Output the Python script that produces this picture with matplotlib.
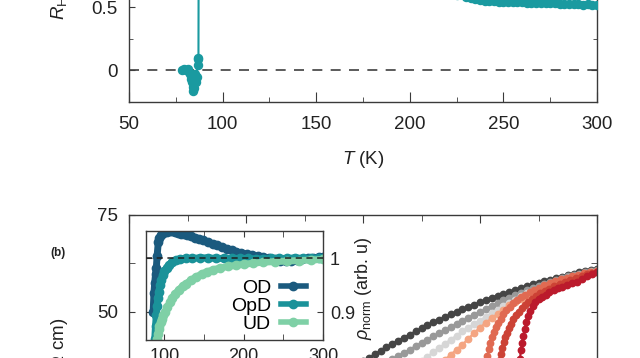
import matplotlib
matplotlib.use("Agg")
import matplotlib.pyplot as plt
from matplotlib.ticker import MultipleLocator, FuncFormatter

plt.rcParams['font.family'] = ['Liberation Sans', 'DejaVu Sans']
plt.rcParams['mathtext.fontset'] = 'custom'
plt.rcParams['mathtext.rm'] = 'Liberation Sans'
plt.rcParams['mathtext.it'] = 'Liberation Sans:italic'
plt.rcParams['mathtext.bf'] = 'Liberation Sans:bold'

# ---------------- data: top panel (Hall coefficient, normalized) ----------------
RH_T = [78.5, 79.5, 80.5, 81.5, 82.0, 82.5, 83.0, 83.5, 84.0, 84.3,
        84.6, 85.2, 85.6, 86.1, 86.6, 86.9, 87.1, 87.3,
        90, 100, 120, 150, 180, 200, 215, 225,
        230, 232.5, 235, 237.5, 240, 242.5, 245, 247.5, 250, 252.5,
        255, 257.5, 260, 262.5, 265, 267.5, 270, 272.5, 275, 277.5,
        280, 282.5, 285, 287.5, 290, 292.5, 295, 297.5, 300]
RH_v = [0.00, 0.01, 0.00, 0.01, -0.01, -0.03, -0.07, -0.09, -0.13, -0.16,
        -0.14, -0.03, -0.09, -0.05, 0.04, 0.09, 0.10, 1.60,
        1.40, 1.15, 0.92, 0.76, 0.67, 0.63, 0.61, 0.60,
        0.580, 0.570, 0.563, 0.556, 0.553, 0.549, 0.547, 0.545, 0.543, 0.544,
        0.540, 0.538, 0.539, 0.536, 0.535, 0.533, 0.534, 0.531, 0.530, 0.531,
        0.528, 0.527, 0.528, 0.525, 0.524, 0.522, 0.523, 0.520, 0.519]

# ---------------- data: bottom panel resistivity curves ----------------
c1_T = [197.5, 200, 202.5, 205, 207.5, 210, 212.5, 215, 217.5, 220,
        222.5, 225, 227.5, 230, 232.5, 235, 237.5, 240, 242.5, 245,
        247.5, 250, 252.5, 255, 257.5, 260, 262.5, 265, 267.5, 270,
        272.5, 275, 277.5, 280, 282.5, 285, 287.5, 290, 292.5, 295,
        297.5, 300]
c1_v = [36.4, 37.3, 38.2, 39.1, 40.0, 40.9, 41.8, 42.6, 43.4, 44.2,
        45.0, 45.8, 46.6, 47.3, 48.0, 48.7, 49.4, 50.1, 50.7, 51.3,
        51.9, 52.5, 53.1, 53.7, 54.2, 54.7, 55.2, 55.7, 56.2, 56.7,
        57.1, 57.5, 57.9, 58.3, 58.7, 59.1, 59.5, 59.9, 60.2, 60.6,
        60.9, 61.2]

c2_T = [212.5, 215, 217.5, 220, 222.5, 225, 227.5, 230, 232.5, 235,
        237.5, 240, 242.5, 245, 247.5, 250, 252.5, 255, 257.5, 260,
        262.5, 265, 267.5, 270, 272.5, 275, 277.5, 280, 282.5, 285,
        287.5, 290, 292.5, 295, 297.5, 300]
c2_v = [37.8, 38.7, 39.5, 40.3, 41.2, 42.0, 42.8, 43.7, 44.5, 45.3,
        46.1, 46.9, 47.7, 48.5, 49.3, 50.0, 50.8, 51.6, 52.3, 53.0,
        53.7, 54.3, 55.0, 55.7, 56.2, 56.7, 57.3, 57.8, 58.3, 58.8,
        59.2, 59.6, 59.9, 60.3, 60.6, 60.9]

c3_T = [222.5, 225, 227.5, 230, 232.5, 235, 237.5, 240, 242.5, 245,
        247.5, 250, 252.5, 255, 257.5, 260, 262.5, 265, 267.5, 270,
        272.5, 275, 277.5, 280, 282.5, 285, 287.5, 290, 292.5, 295,
        297.5, 300]
c3_v = [36.3, 37.4, 38.5, 39.6, 40.7, 41.8, 42.9, 43.9, 45.0, 45.9,
        46.9, 47.8, 48.8, 49.7, 50.6, 51.5, 52.3, 53.2, 54.0, 54.8,
        55.4, 56.0, 56.6, 57.2, 57.8, 58.3, 58.7, 59.1, 59.5, 59.9,
        60.3, 60.6]

c4_T = [235, 237.5, 240, 242.5, 245, 247.5, 250, 252.5, 255, 257.5,
        260, 262.5, 265, 267.5, 270, 272.5, 275, 277.5, 280, 282.5,
        285, 287.5, 290, 292.5, 295, 297.5, 300]
c4_v = [37.7, 39.0, 40.3, 41.6, 43.1, 44.6, 46.0, 47.2, 48.4, 49.5,
        50.6, 51.7, 52.5, 53.3, 54.0, 54.8, 55.6, 56.3, 56.9, 57.4,
        57.9, 58.4, 58.8, 59.3, 59.8, 60.2, 60.5]

c5_T = [252.8, 253.2, 253.7, 254.3, 255.0, 255.8, 256.7, 257.7, 258.8, 260.0,
        261.3, 262.7, 264.2, 265.8, 267.5, 269.3, 271.2, 273.2, 275.3, 277.5,
        279.8, 282.2, 284.6, 287.0, 289.5, 292.0, 294.5, 297.0, 300]
c5_v = [37.0, 38.7, 40.4, 42.0, 43.5, 44.9, 46.1, 47.2, 48.3, 49.4,
        50.4, 51.4, 52.3, 53.1, 53.8, 54.5, 55.1, 55.7, 56.3, 56.9,
        57.4, 57.9, 58.4, 58.8, 59.2, 59.6, 60.0, 60.3, 60.6]

c6_T = [258.2, 258.6, 259.0, 259.5, 260.1, 260.8, 261.5, 262.3, 263.2, 264.2,
        265.3, 266.5, 267.8, 269.2, 270.7, 272.3, 274.0, 275.8, 277.7, 279.7,
        281.8, 284.0, 286.3, 288.6, 291.0, 293.4, 295.8, 298.0, 300]
c6_v = [36.0, 37.6, 39.2, 40.8, 42.2, 43.5, 44.7, 45.9, 47.0, 48.1,
        49.2, 50.1, 51.0, 51.8, 52.6, 53.4, 54.1, 54.8, 55.4, 56.0,
        56.6, 57.2, 57.8, 58.3, 58.8, 59.3, 59.7, 60.1, 60.4]

c7_T = [266.5, 266.8, 267.1, 267.5, 268.0, 268.5, 269.1, 269.8, 270.6, 271.5,
        272.5, 273.7, 275.0, 276.5, 278.0, 279.7, 281.5, 283.3, 285.2, 287.2,
        289.3, 291.4, 293.6, 295.8, 298.0, 300]
c7_v = [34.0, 36.0, 38.0, 40.2, 42.0, 43.8, 45.6, 47.3, 48.9, 50.3,
        51.6, 52.6, 53.4, 53.9, 54.5, 55.1, 55.6, 56.1, 56.5, 57.0,
        57.4, 57.8, 58.5, 59.2, 59.9, 60.3]

curve_colors = ['#454545', '#999999', '#d6d6d6', '#f4a582', '#e06a52', '#cc4235', '#bb1a2c']

# ---------------- data: inset (normalized resistivity) ----------------
OD_T = [86, 87, 88, 89, 90, 91, 92.5, 94, 96, 98,
        101, 104, 107, 110, 113, 117, 121, 125, 129, 134,
        139, 144, 149, 155, 161, 167, 173, 179, 185, 191,
        197, 204, 211, 218, 225, 232, 239, 246, 253, 260,
        267, 274, 281, 288, 295, 300]
OD_v = [0.90, 0.935, 0.955, 0.970, 0.982, 1.005, 1.030, 1.038, 1.044, 1.047,
        1.049, 1.050, 1.051, 1.051, 1.050, 1.048, 1.046, 1.045, 1.043, 1.041,
        1.038, 1.036, 1.034, 1.030, 1.027, 1.024, 1.021, 1.018, 1.015, 1.012,
        1.010, 1.008, 1.006, 1.004, 1.002, 1.000, 0.998, 0.996, 0.995, 0.996,
        0.997, 0.999, 1.000, 1.001, 1.002, 1.002]
OpD_T = [88, 89, 90, 91, 92, 93, 94.5, 96, 98, 100,
         103, 106, 110, 115, 120, 127, 135, 145, 155, 165,
         175, 185, 195, 205, 215, 225, 235, 245, 255, 265,
         275, 285, 295, 300]
OpD_v = [0.85, 0.875, 0.895, 0.912, 0.926, 0.937, 0.950, 0.960, 0.969, 0.976,
         0.983, 0.988, 0.993, 0.997, 0.999, 1.000, 1.000, 1.001, 1.001, 1.000,
         1.000, 1.000, 1.000, 1.000, 0.999, 0.999, 1.000, 1.000, 1.000, 1.001,
         1.000, 1.000, 1.001, 1.001]
UD_T = [91, 92, 93, 94, 95.5, 97, 99, 101, 104, 107,
        110, 114, 118, 123, 128, 134, 140, 147, 154, 162,
        170, 180, 190, 200, 212, 225, 240, 255, 270, 285, 300]
UD_v = [0.85, 0.86, 0.868, 0.875, 0.882, 0.888, 0.894, 0.900, 0.909, 0.918,
        0.926, 0.934, 0.941, 0.948, 0.953, 0.960, 0.965, 0.971, 0.975, 0.979,
        0.982, 0.985, 0.987, 0.989, 0.991, 0.993, 0.994, 0.995, 0.996, 0.997, 0.998]
inset_labels = ['OD', 'OpD', 'UD']
inset_colors = ['#1b5a7e', '#1a9299', '#7fd0a6']

teal = '#1a9aa0'
spine_c = '#3a3a3a'
W, H = 640.0, 358.0

fig = plt.figure(figsize=(6.4, 3.58), dpi=100)

def style(ax, lw=1.0):
    for s in ax.spines.values():
        s.set_color(spine_c)
        s.set_linewidth(lw)

# ---------------- top panel ----------------
ax1 = fig.add_axes([129 / W, (H - 102) / H, 468 / W, 221 / H])
ax1.plot(RH_T, RH_v, '-o', color=teal, lw=1.5, ms=5.8, mec=teal, mfc=teal, zorder=3)
ax1.axhline(0, color='#404040', lw=1.2, ls=(0, (6, 5)), zorder=2)
ax1.set_xlim(50, 300)
ax1.set_ylim(-0.25, 1.5)
ax1.xaxis.set_major_locator(MultipleLocator(50))
ax1.xaxis.set_minor_locator(MultipleLocator(25))
ax1.yaxis.set_major_locator(MultipleLocator(0.5))
ax1.yaxis.set_minor_locator(MultipleLocator(0.25))
ax1.yaxis.set_major_formatter(FuncFormatter(lambda v, p: '%g' % v))
ax1.tick_params(which='both', direction='in', top=True, right=True, colors=spine_c,
                labelsize=13.5, labelcolor='#222222')
ax1.tick_params(axis='x', which='major', length=7, pad=10)
ax1.tick_params(axis='x', which='minor', length=3.6)
ax1.tick_params(axis='y', which='major', length=4.3, pad=8)
ax1.tick_params(axis='y', which='minor', length=3.2)
style(ax1)
fig.text(363 / W, (H - 160) / H, r'$T$ (K)', ha='center', va='center', fontsize=13.5, color='#222222')
fig.text(60 / W, (H - 20) / H, r'$R_{\mathrm{H}}$ (norm.)', rotation=90, ha='center', va='bottom',
         fontsize=13.5, color='#222222')

# ---------------- bottom panel ----------------
ax2 = fig.add_axes([129 / W, -51 / H, 468 / W, 194 / H])
for Tl, vl, c in zip([c1_T, c2_T, c3_T, c4_T, c5_T, c6_T, c7_T],
                     [c1_v, c2_v, c3_v, c4_v, c5_v, c6_v, c7_v], curve_colors):
    ax2.plot(Tl, vl, '-o', color=c, lw=1.6, ms=4.6, mec=c, mfc=c)
ax2.set_xlim(100, 300)
ax2.set_ylim(25, 75)
ax2.xaxis.set_major_locator(MultipleLocator(50))
ax2.xaxis.set_minor_locator(MultipleLocator(25))
ax2.yaxis.set_major_locator(MultipleLocator(25))
ax2.yaxis.set_minor_locator(MultipleLocator(12.5))
ax2.tick_params(which='both', direction='in', top=True, right=True, colors=spine_c,
                labelsize=13.5, labelcolor='#222222')
ax2.tick_params(axis='x', which='major', length=6)
ax2.tick_params(axis='x', which='minor', length=4.3)
ax2.tick_params(axis='y', which='both', length=4.6, pad=8)
style(ax2)
fig.text(60 / W, (H - 318) / H, r'$\rho$ ($\mu\Omega$ cm)', rotation=90, ha='center', va='top',
         fontsize=13.5, color='#222222')
fig.text(58 / W, (H - 253) / H, '(b)', ha='center', va='center', fontsize=8.5, fontweight='bold',
         color='#222222')

# ---------------- inset ----------------
axi = fig.add_axes([146 / W, (H - 340) / H, 177 / W, 109 / H])
for Tl, vl, c, lab in zip([OD_T, OpD_T, UD_T], [OD_v, OpD_v, UD_v], inset_colors, inset_labels):
    axi.plot(Tl, vl, '-o', color=c, lw=5, ms=6, mec=c, mfc=c, label=lab)
axi.axhline(1.0, color='#202020', lw=1.1, ls=(0, (4, 3)), zorder=5)
axi.set_xlim(77, 300)
axi.set_ylim(0.848, 1.051)
axi.xaxis.set_major_locator(MultipleLocator(100))
axi.xaxis.set_minor_locator(MultipleLocator(50))
axi.yaxis.set_major_locator(MultipleLocator(0.1))
axi.yaxis.set_major_formatter(FuncFormatter(lambda v, p: '%g' % round(v, 3)))
axi.tick_params(which='both', direction='in', top=True, right=True, left=True, bottom=True,
                labelleft=False, labelright=True, colors=spine_c, labelsize=13,
                labelcolor='#222222', length=4)
axi.tick_params(axis='x', pad=6)
axi.tick_params(axis='y', pad=5)
style(axi)
leg = axi.legend(loc='lower right', bbox_to_anchor=((306 - 146) / 177, 0.065), markerfirst=False,
                 frameon=False, fontsize=14, handlelength=1.3, handletextpad=0.5,
                 labelspacing=0.02, borderpad=0, borderaxespad=0, numpoints=1)
for h in leg.legend_handles:
    h.set_linewidth(4)
    h.set_markersize(6)
fig.text(364 / W, (H - 288) / H, r'$\rho_{\mathrm{norm}}$ (arb. u)', rotation=90, ha='center',
         va='center', fontsize=13, color='#222222')

fig.savefig('out.png', dpi=100)
